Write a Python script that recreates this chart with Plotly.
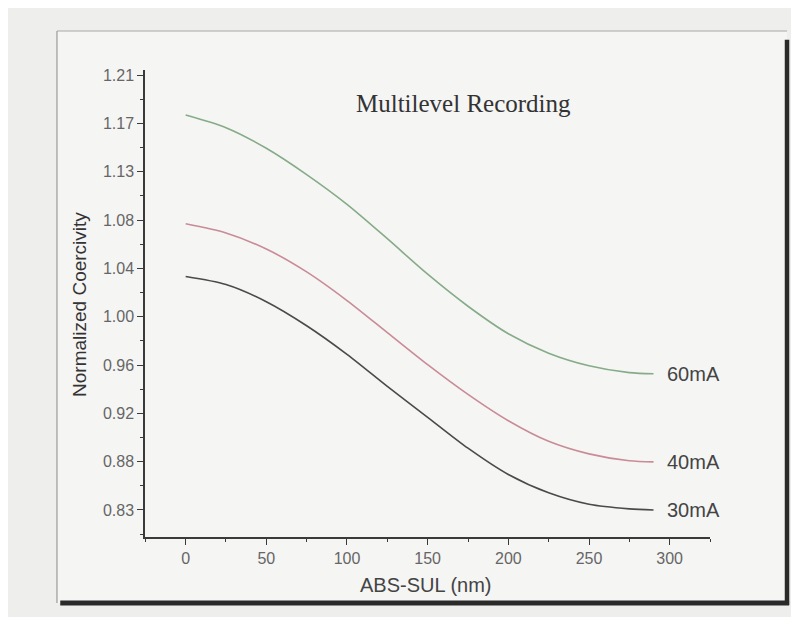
import numpy as np
import plotly.graph_objects as go

# ---- data ----
x_nm = [0, 25, 50, 75, 100, 125, 150, 175, 200, 225, 250, 275, 290]
y_60mA = [1.175, 1.164, 1.146, 1.123, 1.097, 1.067, 1.036, 1.008, 0.984, 0.967, 0.956, 0.950, 0.949]
y_40mA = [1.080, 1.072, 1.058, 1.038, 1.013, 0.985, 0.957, 0.931, 0.908, 0.890, 0.879, 0.873, 0.872]
y_30mA = [1.034, 1.027, 1.012, 0.991, 0.966, 0.938, 0.911, 0.884, 0.861, 0.845, 0.835, 0.831, 0.830]
series_names = ["60mA", "40mA", "30mA"]
series_colors = ["#86ab88", "#c98b97", "#4a4a4a"]

y_tick_labels = ["1.21", "1.17", "1.13", "1.08", "1.04", "1.00", "0.96", "0.92", "0.88", "0.83"]
x_tick_labels = ["0", "50", "100", "150", "200", "250", "300"]

# evenly spaced y ticks (labels above are as printed)
y_tickvals = list(np.linspace(1.21, 0.83, len(y_tick_labels)))
step = y_tickvals[0] - y_tickvals[1]
y_minor = [v - step / 2 for v in y_tickvals]

fig = go.Figure()
for name, ys, col in zip(series_names, [y_60mA, y_40mA, y_30mA], series_colors):
    fig.add_trace(go.Scatter(x=x_nm, y=ys, mode="lines", name=name,
                             line=dict(color=col, width=1.6, shape="spline", smoothing=0.8),
                             showlegend=False, hoverinfo="skip"))
    fig.add_annotation(x=x_nm[-1], y=ys[-1], xref="x", yref="y", text=name,
                       showarrow=False, xanchor="left", yanchor="middle", xshift=11,
                       font=dict(family="Liberation Sans, Arial", size=20, color="#444444"))

axis_color = "#3a3a3a"
fig.update_xaxes(range=[-25.2, 325], showline=True, linecolor=axis_color, linewidth=1.5,
                 ticks="outside", ticklen=6, tickwidth=1.3, tickcolor=axis_color,
                 tickvals=[int(t) for t in x_tick_labels], ticktext=x_tick_labels,
                 tickfont=dict(family="Liberation Sans, Arial", size=16, color="#666666"),
                 showgrid=False, zeroline=False,
                 minor=dict(ticks="outside", ticklen=3, tickwidth=1.3, tickcolor=axis_color,
                            tickvals=[-25, 25, 75, 125, 175, 225, 275, 325]))
fig.update_yaxes(range=[0.8064, 1.2144], showline=True, linecolor=axis_color, linewidth=1.5,
                 ticks="outside", ticklen=6, tickwidth=1.3, tickcolor=axis_color,
                 tickvals=y_tickvals, ticktext=y_tick_labels,
                 tickfont=dict(family="Liberation Sans, Arial", size=16, color="#666666"),
                 showgrid=False, zeroline=False,
                 minor=dict(ticks="outside", ticklen=3, tickwidth=1.3, tickcolor=axis_color,
                            tickvals=y_minor))

# frame around the chart (paper coordinates)
fig.add_shape(type="rect", xref="paper", yref="paper", x0=-0.1558, x1=1.1363, y0=-0.1413, y1=1.0835,
              line=dict(width=0), fillcolor="#f5f5f4", layer="below")
fig.add_shape(type="line", xref="paper", yref="paper", x0=-0.1558, x1=-0.1558, y0=-0.1413, y1=1.0835,
              line=dict(color="#9a9a9a", width=1.2))
fig.add_shape(type="line", xref="paper", yref="paper", x0=-0.1558, x1=1.1363, y0=1.0835, y1=1.0835,
              line=dict(color="#a8a8a8", width=1.2))
fig.add_shape(type="line", xref="paper", yref="paper", x0=1.1363, x1=1.1363, y0=-0.1455, y1=1.065,
              line=dict(color="#2a2a2a", width=4.5))
fig.add_shape(type="line", xref="paper", yref="paper", x0=-0.150, x1=1.140, y0=-0.1413, y1=-0.1413,
              line=dict(color="#2a2a2a", width=5))

fig.add_annotation(xref="paper", yref="paper", x=0.5646, y=0.929, text="Multilevel Recording",
                   showarrow=False, xanchor="center", yanchor="middle",
                   font=dict(family="Liberation Serif, Times New Roman", size=25, color="#333333"))
fig.add_annotation(xref="paper", yref="paper", x=-0.115, y=0.497, text="Normalized Coercivity",
                   showarrow=False, textangle=-90, xanchor="center", yanchor="middle",
                   font=dict(family="Liberation Sans, Arial", size=19, color="#333333"))
fig.add_annotation(xref="paper", yref="paper", x=0.497, y=-0.103, text="ABS-SUL (nm)",
                   showarrow=False, xanchor="center", yanchor="middle",
                   font=dict(family="Liberation Sans, Arial", size=20, color="#444444"))

# the page shows the figure 8px in from the top-left corner, so size/margins compensate
fig.update_layout(width=791, height=609, autosize=False,
                  margin=dict(l=137, r=89, t=62, b=80),
                  paper_bgcolor="#eeeeed", plot_bgcolor="rgba(0,0,0,0)")

fig.write_html("out.html")
